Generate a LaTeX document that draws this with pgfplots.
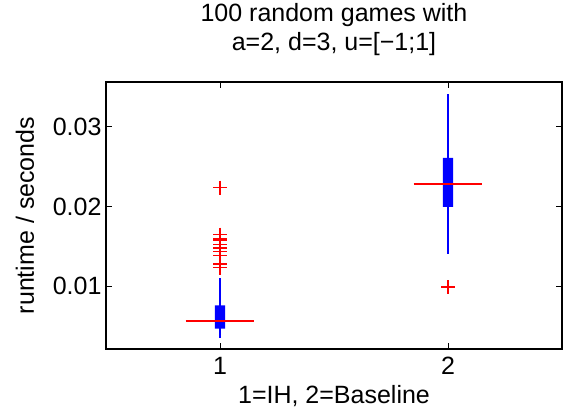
\documentclass[border=0pt]{standalone}
\usepackage{fontspec}
\setmainfont{Liberation Sans}
\usepackage{pgfplots}
\pgfplotsset{compat=1.18}
\newcommand{\f}{\fontsize{25}{29}\selectfont}

\begin{document}
\begin{tikzpicture}
\begin{axis}[
    name=ax,
    scale only axis, width=456pt, height=267pt,
    xmin=0.5, xmax=2.5, ymin=0.00208, ymax=0.03566,
    xtick={1,2}, xticklabels={1,2},
    ytick={0.01,0.02,0.03}, yticklabels={0.01,0.02,0.03},
    scaled y ticks=false,
    tick align=inside, major tick length=6pt,
    axis line style={line width=1.1pt},
    tick style={line width=1pt, black},
    xticklabel style={font=\f, yshift=-5pt},
    yticklabel style={font=\f, xshift=-1pt},
    xlabel={1=IH, 2=Baseline}, ylabel={runtime / seconds},
    xlabel style={font=\f, at={(axis description cs:0.5,0)}, anchor=center, yshift=-47.5pt},
    ylabel style={font=\f, at={(axis description cs:-0.1776,0.5)}, anchor=center},
    title={100 random games with\\a=2, d=3, u=[−1;1]},
    title style={font=\f, align=center, at={(axis description cs:0.5,1)}, anchor=center, yshift=46.5pt},
]
% whiskers
\addplot[blue, line width=1.2pt] coordinates {(1,0.0035) (1,0.0110)};
\addplot[blue, line width=1.2pt] coordinates {(2,0.01406) (2,0.03411)};
% boxes (25th to 75th percentile)
\addplot[fill=blue, draw=none] coordinates {(0.977,0.00463) (1.023,0.00463) (1.023,0.00757) (0.977,0.00757) (0.977,0.00463)};
\addplot[fill=blue, draw=none] coordinates {(1.977,0.01994) (2.023,0.01994) (2.023,0.0261) (1.977,0.0261) (1.977,0.01994)};
% medians
\addplot[color=red, line width=1.8pt] coordinates {(0.849,0.0056) (1.151,0.0056)};
\addplot[color=red, line width=1.8pt] coordinates {(1.849,0.02283) (2.151,0.02283)};
% outliers
\addplot[red, only marks, mark=+, mark size=7pt, line width=1.2pt] coordinates {
  (1,0.02237) (1,0.01645) (1,0.01590) (1,0.01578) (1,0.01525) (1,0.01478)
  (1,0.01436) (1,0.01386) (1,0.01277) (1,0.01228) (2,0.00987)};
\end{axis}
\path (ax.south west) ++(-106pt,-67pt);
\path (ax.north east) ++(3pt,80pt);
\end{tikzpicture}
\end{document}
